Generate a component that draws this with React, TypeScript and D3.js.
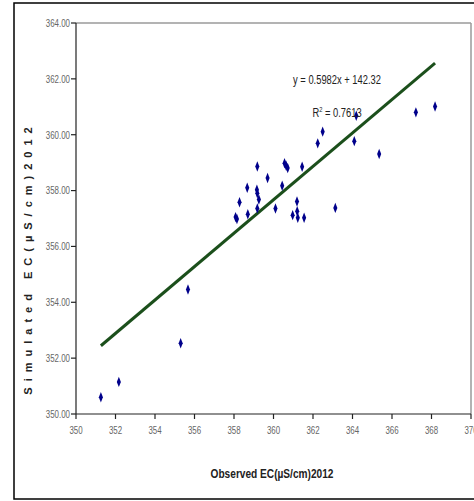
import React from "react";
import * as d3 from "d3";

const observedEC = [
  351.26, 352.17, 355.3, 355.67, 358.08, 358.15, 358.28, 358.67, 358.7, 359.16,
  359.18, 359.26, 359.18, 359.18, 359.7, 360.1, 360.44, 360.56, 360.64, 360.72,
  361.19, 361.2, 360.97, 361.23, 361.55, 361.45, 362.24, 362.49, 363.13, 364.09,
  365.35, 367.21, 368.18, 364.19,
];
const simulatedEC = [
  350.6, 351.15, 352.53, 354.46, 357.05, 356.98, 357.58, 358.1, 357.15, 358.03,
  357.9, 357.68, 357.36, 358.86, 358.45, 357.36, 358.17, 358.98, 358.89, 358.81,
  357.61, 357.26, 357.12, 357.03, 357.03, 358.85, 359.69, 360.11, 357.38, 359.77,
  359.31, 360.8, 361.01, 360.68,
];
const xTicks = [350, 352, 354, 356, 358, 360, 362, 364, 366, 368, 370];
const yTicks = [350, 352, 354, 356, 358, 360, 362, 364];
const slope = 0.5982;
const intercept = 142.32;
const equationLabel = "y = 0.5982x + 142.32";
const r2Value = "0.7613";

const W = 474;
const H = 501;
const left = 76;
const right = 471;
const top = 23;
const bottom = 414;
const font = "'Liberation Sans', Arial, sans-serif";

function Narrow({
  x,
  y,
  sx,
  anchor,
  size,
  fill,
  children,
  weight,
}: {
  x: number;
  y: number;
  sx: number;
  anchor: string;
  size: number;
  fill: string;
  children: React.ReactNode;
  weight?: string;
}) {
  return (
    <text
      transform={`translate(${x},${y}) scale(${sx},1)`}
      textAnchor={anchor}
      fontFamily={font}
      fontSize={size}
      fontWeight={weight || "normal"}
      fill={fill}
      dy="0.35em"
    >
      {children}
    </text>
  );
}

export default function App() {
  const x = d3.scaleLinear().domain([350, 370]).range([left, right]);
  const y = d3.scaleLinear().domain([350, 364]).range([bottom, top]);
  const xMin = d3.min(observedEC) as number;
  const xMax = d3.max(observedEC) as number;
  const line = d3
    .line<number>()
    .x((d) => x(d))
    .y((d) => y(slope * d + intercept));
  const diamond = d3.symbol().type(d3.symbolDiamond).size(26)() as string;

  return (
    <svg
      width={W}
      height={H}
      style={{ position: "absolute", left: 0, top: 0, background: "#fff" }}
    >
      <rect x={14} y={3} width={480} height={496} fill="#fff" stroke="#000" strokeWidth={1.5} />
      <line x1={left} y1={top} x2={right} y2={top} stroke="#9a9a9a" strokeWidth={1.5} />
      <line x1={right} y1={top} x2={right} y2={bottom} stroke="#9a9a9a" strokeWidth={1.5} />
      <line x1={left} y1={top} x2={left} y2={bottom} stroke="#222" strokeWidth={1.2} />
      <line x1={left} y1={bottom} x2={right} y2={bottom} stroke="#222" strokeWidth={1.2} />
      {yTicks.map((t) => (
        <g key={"y" + t}>
          <line x1={left - 5} x2={left} y1={y(t)} y2={y(t)} stroke="#222" strokeWidth={1.2} />
          <Narrow x={left - 6} y={y(t)} sx={0.72} anchor="end" size={11} fill="#666">
            {t.toFixed(2)}
          </Narrow>
        </g>
      ))}
      {xTicks.map((t) => (
        <g key={"x" + t}>
          <line x1={x(t)} x2={x(t)} y1={bottom} y2={bottom + 5} stroke="#222" strokeWidth={1.2} />
          <Narrow x={x(t)} y={bottom + 16} sx={0.72} anchor="middle" size={11} fill="#666">
            {t}
          </Narrow>
        </g>
      ))}
      <path
        d={line([xMin, xMax]) as string}
        fill="none"
        stroke="#1b4f1b"
        strokeWidth={3}
      />
      {observedEC.map((v, i) => (
        <path
          key={"p" + i}
          d={diamond}
          transform={`translate(${x(v)},${y(simulatedEC[i])}) scale(0.75,1.1)`}
          fill="#00008b"
        />
      ))}
      <Narrow x={337} y={79} sx={0.72} anchor="middle" size={13} fill="#222">
        {equationLabel}
      </Narrow>
      <Narrow x={337} y={112} sx={0.72} anchor="middle" size={13} fill="#222">
        R<tspan dy={-5} fontSize={8}>2</tspan>
        <tspan dy={5}> = {r2Value}</tspan>
      </Narrow>
      <Narrow x={272} y={473} sx={0.78} anchor="middle" size={13} fill="#222" weight="bold">
        Observed EC(µS/cm)2012
      </Narrow>
      <text
        transform={`translate(32,258) rotate(-90)`}
        textAnchor="middle"
        fontFamily={font}
        fontSize={11}
        fontWeight="bold"
        letterSpacing={6}
        fill="#222"
      >
        Simulated EC(µS/cm)2012
      </text>
    </svg>
  );
}
